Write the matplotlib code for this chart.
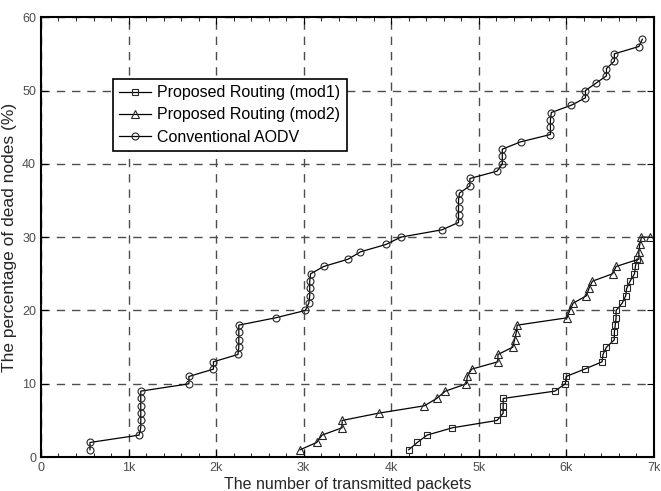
import matplotlib
matplotlib.use('Agg')
import matplotlib.pyplot as plt
from matplotlib.ticker import MultipleLocator, FixedLocator

plt.rcParams['font.family'] = ['Liberation Sans', 'DejaVu Sans']

# x in thousands of packets, y in percent of dead nodes
mod1_x = [4.20, 4.30, 4.41, 4.70, 5.21, 5.28, 5.28, 5.28, 5.87, 5.99, 6.00,
          6.21, 6.41, 6.42, 6.46, 6.55, 6.55, 6.56, 6.57, 6.57, 6.64, 6.68,
          6.69, 6.73, 6.78, 6.79, 6.81]
mod1_y = list(range(1, 28))

mod2_x = [2.96, 3.15, 3.21, 3.44, 3.44, 3.86, 4.38, 4.52, 4.62, 4.86, 4.87,
          4.92, 5.22, 5.22, 5.39, 5.41, 5.43, 5.44, 6.01, 6.04, 6.08, 6.23,
          6.26, 6.30, 6.53, 6.57, 6.83, 6.83, 6.84, 6.86, 6.96]
mod2_y = list(range(1, 31)) + [30]

aodv_x = [0.56, 0.56, 1.12, 1.14, 1.14, 1.14, 1.14, 1.14, 1.14, 1.69, 1.69,
          1.97, 1.97, 2.25, 2.26, 2.26, 2.26, 2.26, 2.68, 3.02, 3.06, 3.07,
          3.07, 3.07, 3.08, 3.23, 3.51, 3.65, 3.94, 4.11, 4.58, 4.77, 4.77,
          4.77, 4.77, 4.78, 4.90, 4.90, 5.21, 5.27, 5.27, 5.27, 5.48, 5.82,
          5.82, 5.82, 5.83, 6.06, 6.22, 6.22, 6.34, 6.46, 6.46, 6.55, 6.55,
          6.83, 6.87]
aodv_y = list(range(1, 58))

xticks = [0, 1, 2, 3, 4, 5, 6, 7]
xticklabels = ['0', '1k', '2k', '3k', '4k', '5k', '6k', '7k']
yticks = [0, 10, 20, 30, 40, 50, 60]

fig = plt.figure(figsize=(6.61, 4.91), dpi=100)
ax = fig.add_axes([0.062, 0.069, 0.927, 0.896])

ms = 5
ax.plot(mod1_x, mod1_y, color='black', lw=0.9, marker='s', ms=ms,
        mfc='none', mec='0.15', mew=0.8, label='Proposed Routing (mod1)')
ax.plot(mod2_x, mod2_y, color='black', lw=0.9, marker='^', ms=ms + 1,
        mfc='none', mec='0.15', mew=0.8, label='Proposed Routing (mod2)')
ax.plot(aodv_x, aodv_y, color='black', lw=0.9, marker='o', ms=ms,
        mfc='none', mec='0.15', mew=0.8, label='Conventional AODV')

ax.set_xlim(0, 7)
ax.set_ylim(0, 60)
ax.xaxis.set_major_locator(FixedLocator(xticks))
ax.set_xticklabels(xticklabels)
ax.xaxis.set_minor_locator(MultipleLocator(0.2))
ax.set_yticks(yticks)

ax.grid(True, which='major', color='0.3', linestyle=(0, (6, 5)), lw=1.0)
ax.tick_params(which='both', direction='in', top=True, right=True,
               labelsize=9, labelcolor='0.3', color='black')
ax.tick_params(which='major', length=5)
ax.tick_params(which='minor', length=3)
for sp in ax.spines.values():
    sp.set_linewidth(1.5)

ax.set_xlabel('The number of transmitted packets', fontsize=11.5,
              color='0.15', labelpad=2)
ax.set_ylabel('The percentage of dead nodes (%)', fontsize=12.5,
              color='0.15', labelpad=4)

leg = ax.legend(loc='upper left', bbox_to_anchor=(0.104, 0.878),
                fontsize=11.5, fancybox=False, framealpha=1, edgecolor='black',
                borderpad=0.4, labelspacing=0.45, handlelength=2.0,
                handletextpad=0.4)
leg.get_frame().set_linewidth(1.2)

plt.savefig('out.png', dpi=100)
plt.close()
